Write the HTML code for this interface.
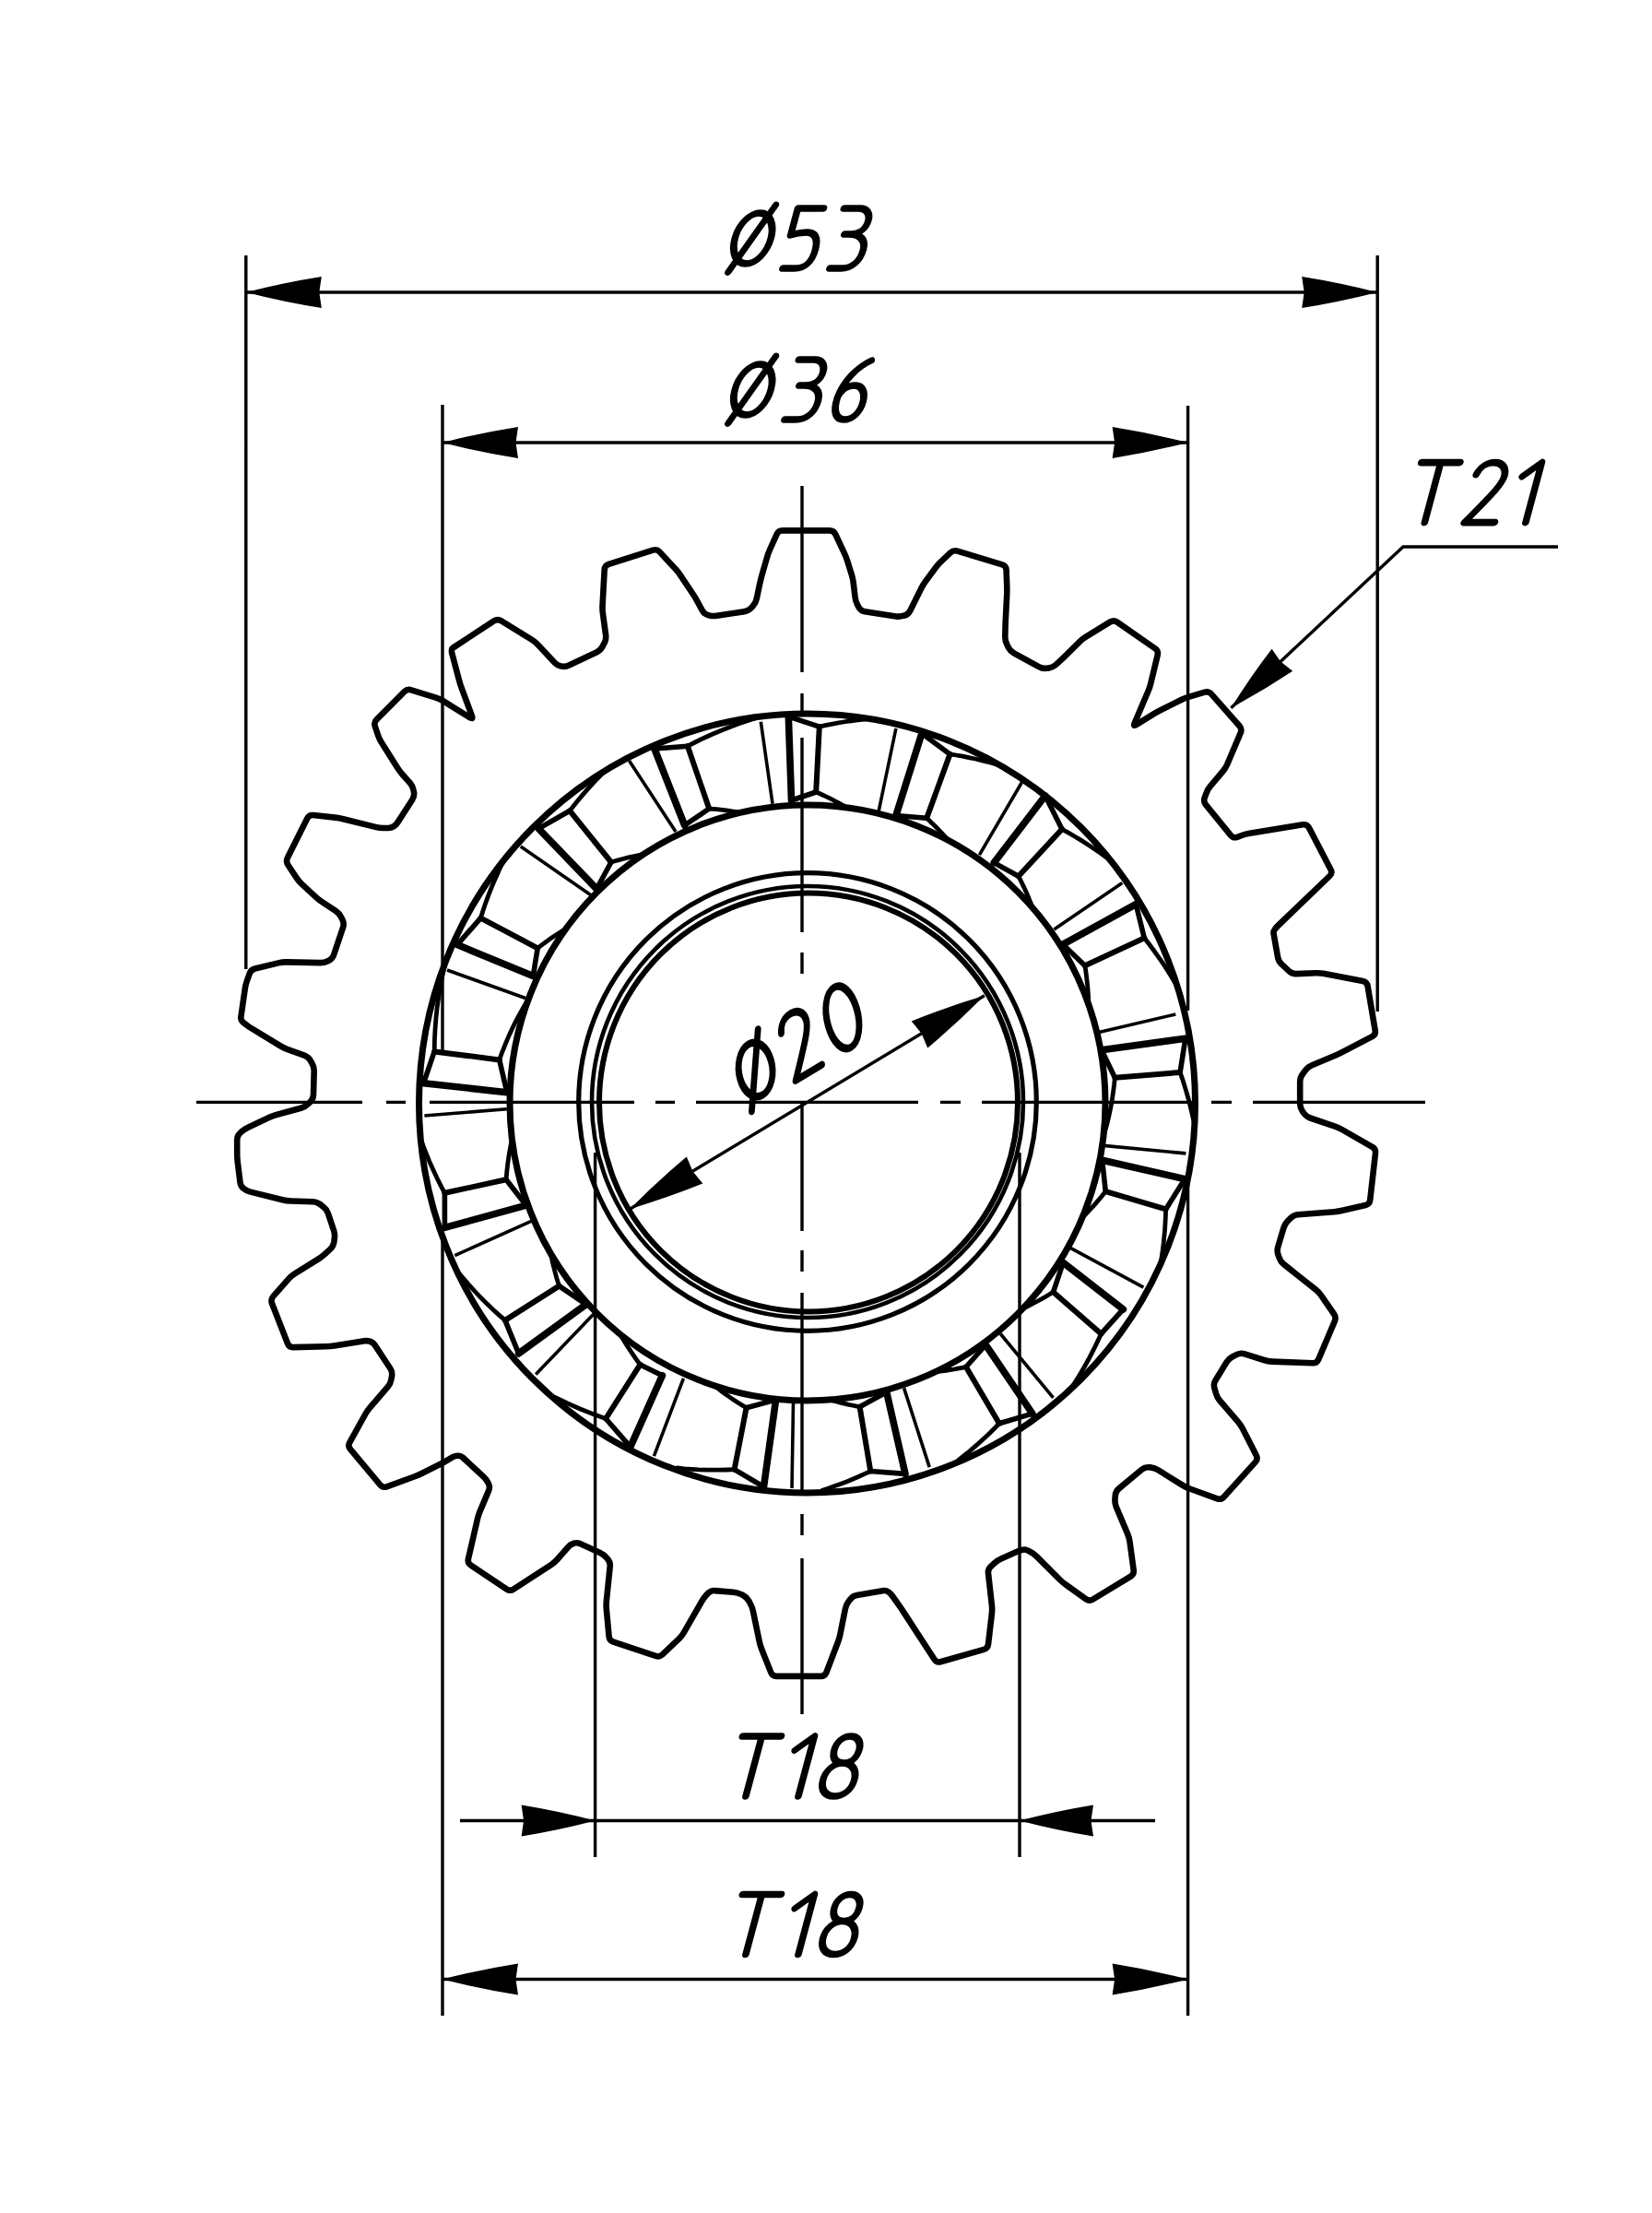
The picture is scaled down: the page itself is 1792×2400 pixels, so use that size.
<!DOCTYPE html><html><head><meta charset="utf-8"><style>html,body{margin:0;padding:0;background:#fff;overflow:hidden;}svg{display:block;}</style></head><body><svg width="1792" height="2400" viewBox="0 0 1792 2400" stroke="#000" fill="#000"><path d="M870,527V729M870,752V777M870,800V1011M870,1033V1056M870,1195V1335M870,1356V1379M870,1402V1621M870,1642V1665M870,1690V1859M213,1195.4H393M419,1195.4H440M466,1195.4H688M711,1195.4H732M755,1195.4H996M1020,1195.4H1042M1065,1195.4H1295M1314,1195.4H1336M1359,1195.4H1546" stroke-width="3.4" fill="none"/><path d="M266.8,277V1051M1494.2,277V1097M266.8,317H1494.2M480,439V1139M480,1337V2186M1288.6,440V1096M1288.6,1281V2186M480,480H1288.6M645.6,1250V2014M1106,1250V2014M499,1974.5H1253M480,2146.5H1288.6M1335.4,767.7L1522,593H1690M683.2,1311.2L1067.8,1079.8" stroke-width="3.4" fill="none"/><g stroke="none"><path d="M266.8,317.0Q307.8,306.5 348.8,300.0L346.3,317.0L348.8,334.0Q307.8,327.5 266.8,317.0Z"/><path d="M1494.2,317.0Q1453.2,327.5 1412.2,334.0L1414.7,317.0L1412.2,300.0Q1453.2,306.5 1494.2,317.0Z"/><path d="M480.0,480.0Q521.0,469.5 562.0,463.0L559.5,480.0L562.0,497.0Q521.0,490.5 480.0,480.0Z"/><path d="M1288.6,480.0Q1247.6,490.5 1206.6,497.0L1209.1,480.0L1206.6,463.0Q1247.6,469.5 1288.6,480.0Z"/><path d="M645.6,1974.5Q605.6,1985.0 565.6,1991.5L568.1,1974.5L565.6,1957.5Q605.6,1964.0 645.6,1974.5Z"/><path d="M1106.0,1974.5Q1146.0,1964.0 1186.0,1957.5L1183.5,1974.5L1186.0,1991.5Q1146.0,1985.0 1106.0,1974.5Z"/><path d="M480.0,2146.5Q521.0,2136.0 562.0,2129.5L559.5,2146.5L562.0,2163.5Q521.0,2157.0 480.0,2146.5Z"/><path d="M1288.6,2146.5Q1247.6,2157.0 1206.6,2163.5L1209.1,2146.5L1206.6,2129.5Q1247.6,2136.0 1288.6,2146.5Z"/><path d="M1335.4,767.7Q1356.1,734.3 1379.6,703.7L1389.1,717.5L1402.2,727.8Q1370.1,749.2 1335.4,767.7Z"/><path d="M1067.8,1079.8Q1038.0,1109.9 1006.2,1136.6L999.6,1120.7L988.7,1107.4Q1027.2,1091.9 1067.8,1079.8Z"/><path d="M683.2,1311.2Q713.0,1281.1 744.8,1254.4L751.4,1270.3L762.3,1283.6Q723.8,1299.1 683.2,1311.2Z"/></g><path d="M848.9,575.3L899.9,575.4Q904.4,575.4 906.3,579.5L916.1,600.4Q918.0,604.5 919.3,608.8L924.0,623.8Q925.3,628.1 925.8,632.6L927.5,647.2Q928.0,651.7 930.0,655.7L931.5,658.6Q933.5,662.6 938.0,663.3L972.0,668.4Q976.2,669.0 980.3,667.7L981.2,667.5Q985.3,666.2 987.2,662.4L999.6,637.5Q1001.6,633.5 1004.3,629.9L1015.2,615.3Q1017.9,611.7 1021.2,608.6L1031.0,599.4Q1034.3,596.3 1038.6,597.6L1087.2,612.3Q1091.5,613.6 1091.6,618.1L1092.3,636.3Q1092.4,640.8 1092.2,645.3L1090.8,672.6Q1090.6,677.1 1090.5,681.6L1090.3,690.5Q1090.2,695.0 1092.3,699.0L1093.9,702.2Q1096.0,706.2 1099.9,708.4L1126.9,723.1Q1130.8,725.3 1135.3,724.8L1137.2,724.6Q1141.7,724.1 1145.1,721.1L1149.2,717.4Q1152.6,714.4 1155.8,711.2L1171.2,695.8Q1174.4,692.6 1178.3,690.3L1204.4,674.4Q1208.3,672.1 1212.0,674.7L1253.1,703.4Q1256.8,706.0 1255.7,710.4L1248.2,741.5Q1247.1,745.9 1245.3,750.0L1230.7,784.2Q1228.9,788.3 1232.7,785.9L1250.5,774.9Q1254.3,772.5 1258.3,770.5L1281.8,758.8Q1285.8,756.8 1290.1,755.6L1306.9,750.7Q1311.2,749.5 1314.2,752.9L1344.5,787.3Q1347.5,790.7 1345.7,794.8L1331.2,829.0Q1329.4,833.1 1326.5,836.5L1312.9,852.7Q1310.0,856.1 1308.5,860.3L1306.7,865.2Q1305.2,869.4 1308.1,872.9L1335.0,905.8Q1337.9,909.3 1342.1,907.8L1347.0,906.0Q1351.2,904.5 1355.6,903.8L1413.4,894.3Q1417.8,893.6 1419.9,897.6L1443.5,942.9Q1445.6,946.9 1442.4,950.0L1387.2,1003.0Q1385.1,1005.0 1383.3,1007.2L1382.9,1007.8Q1381.1,1010.0 1381.6,1012.8L1386.1,1038.2Q1386.9,1042.6 1390.2,1045.7L1398.2,1053.1Q1401.5,1056.2 1406.0,1056.1L1427.9,1055.3Q1432.4,1055.2 1436.8,1056.1L1478.4,1064.0Q1482.8,1064.9 1483.6,1069.3L1491.7,1117.6Q1492.5,1122.0 1488.5,1124.1L1455.8,1141.2Q1451.8,1143.3 1447.6,1145.0L1423.1,1155.2Q1418.9,1156.9 1416.2,1160.5L1412.9,1164.9Q1410.2,1168.5 1410.2,1173.0L1410.2,1197.0Q1410.2,1201.5 1412.8,1205.2L1414.4,1207.4Q1417.0,1211.1 1421.3,1212.5L1447.5,1221.4Q1451.8,1222.8 1455.7,1225.0L1488.6,1243.8Q1492.5,1246.0 1492.0,1250.5L1486.2,1301.5Q1485.7,1306.0 1481.3,1307.0L1456.2,1312.8Q1451.8,1313.8 1447.3,1314.2L1407.9,1317.3Q1403.4,1317.7 1400.2,1320.9L1396.9,1324.2Q1393.7,1327.4 1392.4,1331.7L1386.3,1352.1Q1385.0,1356.4 1386.4,1360.7L1387.5,1363.7Q1388.9,1368.0 1392.4,1370.8L1399.9,1376.9Q1403.4,1379.7 1406.9,1382.5L1427.0,1398.4Q1430.5,1401.2 1433.1,1404.9L1447.0,1425.0Q1449.6,1428.7 1447.8,1432.8L1430.2,1474.4Q1428.4,1478.5 1423.9,1478.3L1379.9,1476.6Q1375.4,1476.4 1371.1,1475.0L1350.1,1468.3Q1345.8,1466.9 1341.8,1468.9L1337.1,1471.2Q1333.1,1473.2 1330.7,1477.0L1318.5,1497.0Q1316.1,1500.8 1317.3,1505.1L1319.1,1511.3Q1320.3,1515.6 1323.2,1519.0L1342.9,1541.9Q1345.8,1545.3 1347.9,1549.3L1362.7,1578.3Q1364.8,1582.3 1361.8,1585.6L1327.6,1623.5Q1324.6,1626.8 1320.4,1625.3L1290.6,1614.5Q1286.4,1613.0 1282.6,1610.6L1256.3,1594.3Q1252.5,1591.9 1248.0,1591.4L1246.5,1591.3Q1242.0,1590.8 1238.5,1593.7L1213.7,1614.4Q1210.2,1617.3 1209.8,1621.8L1209.5,1625.5Q1209.1,1630.0 1210.8,1634.2L1223.3,1663.9Q1225.0,1668.1 1225.6,1672.6L1229.7,1702.8Q1230.3,1707.3 1226.5,1709.6L1185.5,1734.5Q1181.7,1736.8 1178.0,1734.2L1156.4,1718.8Q1152.7,1716.2 1149.5,1713.0L1124.4,1687.9Q1121.2,1684.7 1117.2,1682.7L1114.6,1681.4Q1111.5,1679.9 1108.2,1681.0L1107.5,1681.2Q1104.2,1682.3 1101.0,1683.7L1086.5,1690.2Q1082.4,1692.0 1079.0,1695.0L1074.9,1698.7Q1071.5,1701.7 1072.0,1706.2L1075.9,1740.8Q1076.4,1745.3 1075.9,1749.8L1072.0,1783.2Q1071.5,1787.7 1067.2,1788.9L1020.2,1802.2Q1015.9,1803.4 1013.5,1799.6L980.7,1749.1Q978.3,1745.3 975.7,1741.6L967.8,1730.5Q966.2,1728.3 964.0,1726.7L963.6,1726.3Q961.4,1724.7 958.7,1725.1L929.5,1730.1Q925.1,1730.8 922.4,1734.4L920.5,1736.8Q917.8,1740.4 916.9,1744.8L911.4,1772.4Q910.5,1776.8 908.9,1781.0L896.4,1813.7Q894.8,1817.9 890.3,1817.9L842.3,1817.9Q837.8,1817.9 836.2,1813.7L826.1,1788.2Q824.5,1784.0 823.6,1779.6L816.9,1747.3Q816.0,1742.9 813.8,1739.0L812.1,1735.9Q809.9,1732.0 805.9,1730.0L804.2,1729.1Q800.2,1727.1 795.7,1726.7L775.7,1725.1Q771.2,1724.7 768.0,1727.9L767.1,1728.8Q763.9,1732.0 761.7,1735.9L741.9,1770.4Q739.7,1774.3 736.4,1777.4L718.8,1794.2Q715.5,1797.3 711.2,1795.9L665.3,1780.6Q661.0,1779.2 660.6,1774.7L657.8,1744.9Q657.4,1740.4 657.9,1735.9L661.7,1698.9Q662.2,1694.4 659.3,1691.0L657.9,1689.4Q655.0,1686.0 650.9,1684.1L629.1,1674.1Q625.9,1672.6 622.6,1673.7L621.9,1674.0Q618.6,1675.1 616.3,1677.7L604.7,1691.0Q601.7,1694.4 597.9,1696.9L557.1,1723.4Q553.3,1725.9 549.6,1723.4L510.7,1697.5Q507.0,1695.0 508.0,1690.6L518.1,1646.8Q519.1,1642.4 520.9,1638.3L530.1,1616.6Q531.8,1612.7 529.9,1608.9L529.4,1608.0Q527.5,1604.2 524.4,1601.3L502.1,1580.8Q500.0,1578.8 497.1,1578.8L496.5,1578.8Q493.6,1578.8 491.1,1580.2L482.7,1585.1Q478.8,1587.3 474.8,1589.3L457.4,1598.0Q453.4,1600.0 449.2,1601.5L419.5,1612.3Q415.3,1613.8 412.4,1610.4L380.0,1571.6Q377.1,1568.2 379.3,1564.3L396.1,1534.0Q398.3,1530.1 401.2,1526.7L420.8,1503.8Q423.7,1500.4 424.4,1496.0L425.1,1492.1Q425.8,1487.7 423.3,1484.0L406.4,1458.4Q404.7,1455.9 401.8,1455.0L401.2,1454.7Q398.3,1453.8 395.3,1454.3L362.5,1459.5Q358.1,1460.2 353.6,1460.3L318.1,1461.1Q313.6,1461.2 312.0,1457.0L295.0,1413.5Q293.4,1409.3 296.4,1405.9L312.7,1387.3Q315.7,1383.9 319.5,1381.5L345.8,1365.1Q349.6,1362.7 352.9,1359.6L358.3,1354.6Q361.6,1351.5 362.3,1347.0L362.8,1343.2Q363.5,1338.7 362.1,1334.4L355.8,1315.8Q354.4,1311.5 350.8,1308.8L347.1,1306.0Q343.5,1303.3 339.0,1303.2L315.3,1302.5Q310.8,1302.4 306.4,1301.3L270.8,1292.4Q267.2,1291.5 264.4,1289.1L263.7,1288.5Q260.9,1286.1 260.5,1282.4L257.7,1259.7Q257.2,1255.2 257.2,1250.7L257.2,1236.1Q257.2,1231.6 260.6,1228.6L262.0,1227.3Q265.4,1224.3 269.5,1222.4L292.2,1211.7Q296.3,1209.8 300.7,1208.7L326.4,1201.8Q330.8,1200.7 334.0,1197.5L336.7,1194.8Q339.9,1191.6 340.0,1187.1L340.7,1161.6Q340.8,1157.1 338.5,1153.2L336.7,1150.1Q334.4,1146.2 330.2,1144.7L311.4,1137.8Q307.2,1136.3 303.4,1133.9L270.4,1113.7Q267.2,1111.7 264.4,1109.3L263.7,1108.7Q260.9,1106.3 261.4,1102.6L265.7,1072.7Q266.3,1068.2 267.8,1064.0L270.7,1055.8Q272.2,1051.6 276.6,1050.5L301.9,1044.4Q306.3,1043.3 310.8,1043.4L347.2,1044.1Q351.7,1044.2 355.7,1042.2L356.7,1041.7Q360.7,1039.7 362.1,1035.4L372.1,1005.8Q373.5,1001.5 371.5,997.5L370.0,994.6Q368.0,990.6 364.3,988.1L349.9,978.6Q346.2,976.1 342.9,973.1L327.7,959.1Q324.4,956.1 321.9,952.4L312.4,938.0Q309.9,934.3 311.9,930.3L333.3,887.5Q335.3,883.5 339.8,884.0L363.5,886.6Q368.0,887.1 372.4,888.2L407.2,896.9Q411.6,898.0 416.1,898.0L421.3,898.0Q424.3,898.0 426.8,896.4L427.3,896.0Q429.8,894.4 431.4,891.9L447.3,867.3Q449.7,863.5 449.0,859.1L448.6,857.0Q447.9,852.6 444.9,849.2L436.4,839.7Q433.4,836.3 431.0,832.5L414.0,805.6Q411.6,801.8 410.1,797.5L406.8,787.8Q405.3,783.5 408.5,780.3L438.6,750.2Q441.8,747.0 446.1,748.3L472.9,756.7Q477.2,758.0 481.0,760.4L509.7,778.2Q513.5,780.6 511.9,776.4L500.6,745.8Q499.0,741.6 497.9,737.2L490.3,708.7Q489.9,707.1 489.9,705.5L489.9,705.1Q489.9,703.5 491.3,702.6L536.0,673.3Q539.8,670.8 543.6,673.2L576.9,693.8Q580.7,696.2 583.8,699.5L601.5,718.5Q604.3,721.6 608.4,722.4L609.3,722.6Q613.4,723.4 617.2,721.6L647.4,707.2Q651.5,705.3 653.5,701.3L656.1,696.3Q657.0,694.4 657.1,692.3L657.2,691.9Q657.3,689.8 657.0,687.7L653.9,665.0Q653.3,660.5 653.6,656.0L655.7,617.8Q656.0,613.3 660.3,611.9L708.3,596.7Q712.6,595.3 715.6,598.6L732.9,617.3Q735.9,620.6 738.4,624.3L752.0,644.8Q754.5,648.5 756.6,652.5L761.8,662.1Q763.9,665.9 768.1,667.1L769.0,667.3Q773.2,668.5 777.5,667.8L807.4,663.2Q811.8,662.5 814.9,659.2L816.7,657.2Q819.8,653.9 820.7,649.5L824.2,633.0Q825.1,628.6 826.3,624.3L831.9,604.9Q833.1,600.6 834.9,596.5L842.6,579.4Q844.4,575.3 848.9,575.3Z" stroke-width="6.6" fill="none" stroke-linejoin="round"/><circle cx="876" cy="1195" r="248.3" stroke-width="5.2" fill="none"/><circle cx="876" cy="1195" r="234" stroke-width="4.6" fill="none"/><circle cx="877" cy="1195.5" r="227" stroke-width="6" fill="none"/><ellipse cx="875.5" cy="1196.5" rx="421" ry="422.5" stroke-width="7" fill="none"/><circle cx="876" cy="1196" r="323" stroke-width="7" fill="none"/><path d="M825.3,782.7L838.0,871.7M971.9,790.0L953.3,879.2M1108.4,848.5L1062.4,927.2M1217.4,957.4L1143.3,1008.0M1275.3,1100.0L1192.0,1119.4M1286.4,1250.9L1196.9,1242.4M1240.4,1396.2L1161.1,1353.3M1142.5,1515.8L1085.2,1446.5M1008.2,1591.1L980.6,1505.4M859.0,1614.0L860.5,1521.0M709.4,1579.1L741.4,1494.9M581.2,1490.5L643.8,1425.3M493.3,1361.6L576.8,1324.1M460.4,1210.0L549.9,1202.7M485.0,1052.0L570.0,1082.5M564.8,918.0L643.5,972.5M682.5,825.0L733.0,902.0" stroke-width="3.6" fill="none"/><path d="M855.3,777.2L858.5,868.0M999.9,795.3L971.9,884.5M1133.8,863.0L1078.2,935.6M1232.2,980.6L1153.0,1024.2M1285.9,1126.2L1194.9,1138.7M1285.2,1278.7L1195.6,1258.2M1218.4,1419.9L1153.2,1369.3M1119.9,1533.1L1069.2,1458.5M982.0,1598.4L961.7,1509.7M828.5,1612.5L841.6,1518.1M683.8,1569.1L718.4,1491.8M562.6,1467.9L635.8,1414.6M482.4,1331.4L570.8,1307.2M459.5,1174.7L549.9,1184.7M496.0,1024.6L578.3,1058.5M584.2,898.6L647.2,964.0M709.9,812.0L742.6,895.0" stroke-width="7.6" fill="none" stroke-linecap="round"/><path d="M888.8,788.1L885.2,859.0M1030.5,817.9L1005.2,887.2M1152.0,899.3L1104.8,950.2M1241.3,1017.3L1176.9,1047.2M1280.1,1163.0L1209.4,1168.8M1264.6,1311.4L1199.3,1292.1M1194.4,1446.5L1142.5,1401.3M1083.9,1543.8L1047.9,1482.5M944.3,1595.5L932.6,1525.7M796.6,1593.7L809.6,1526.8M657.1,1538.5L694.4,1479.9M547.9,1431.9L606.5,1394.6M482.4,1293.8L549.0,1279.3M471.2,1140.4L541.7,1149.4M521.4,995.6L583.2,1028.3M618.1,879.3L662.9,935.0M745.9,809.2L769.2,877.0" stroke-width="6" fill="none" stroke-linecap="round"/><path d="M855.3,777.2L888.8,788.1M858.5,868.0L885.2,859.0M999.9,795.3L1030.5,817.9M971.9,884.5L1005.2,887.2M1133.8,863.0L1152.0,899.3M1078.2,935.6L1104.8,950.2M1232.2,980.6L1241.3,1017.3M1153.0,1024.2L1176.9,1047.2M1285.9,1126.2L1280.1,1163.0M1194.9,1138.7L1209.4,1168.8M1285.2,1278.7L1264.6,1311.4M1195.6,1258.2L1199.3,1292.1M1218.4,1419.9L1194.4,1446.5M1153.2,1369.3L1142.5,1401.3M1119.9,1533.1L1083.9,1543.8M1069.2,1458.5L1047.9,1482.5M982.0,1598.4L944.3,1595.5M961.7,1509.7L932.6,1525.7M828.5,1612.5L796.6,1593.7M841.6,1518.1L809.6,1526.8M683.8,1569.1L657.1,1538.5M718.4,1491.8L694.4,1479.9M562.6,1467.9L547.9,1431.9M635.8,1414.6L606.5,1394.6M482.4,1331.4L482.4,1293.8M570.8,1307.2L549.0,1279.3M459.5,1174.7L471.2,1140.4M549.9,1184.7L541.7,1149.4M496.0,1024.6L521.4,995.6M578.3,1058.5L583.2,1028.3M584.2,898.6L618.1,879.3M647.2,964.0L662.9,935.0M709.9,812.0L745.9,809.2M742.6,895.0L769.2,877.0" stroke-width="5.6" fill="none" stroke-linecap="round"/><path d="M888.8,788.1L895.3,786.7L901.8,785.4L908.4,784.1L915.0,783.0L921.7,782.0L928.4,781.2L935.2,780.4L942.0,779.7M885.2,859.0L889.4,860.8L893.6,862.7L897.7,864.7L901.8,866.7L905.9,868.8L909.8,870.9L913.8,873.0L917.7,875.2M1030.5,817.9L1037.3,819.0L1044.2,820.2L1051.0,821.6L1057.9,823.0L1064.7,824.6L1071.5,826.3L1078.4,828.2L1085.2,830.2M1005.2,887.2L1008.2,890.0L1011.2,892.9L1014.2,895.8L1017.0,898.7L1019.9,901.6L1022.7,904.6L1025.4,907.5L1028.1,910.6M1152.0,899.3L1159.0,903.2L1166.0,907.2L1172.9,911.4L1179.7,915.7L1186.5,920.2L1193.2,924.9L1199.9,929.7L1206.5,934.7M1104.8,950.2L1106.9,954.3L1108.9,958.5L1110.9,962.6L1112.8,966.8L1114.7,971.0L1116.4,975.2L1118.1,979.4L1119.7,983.6M1241.3,1017.3L1246.4,1023.8L1251.4,1030.5L1256.3,1037.3L1261.1,1044.2L1265.7,1051.3L1270.2,1058.5L1274.6,1065.8L1278.8,1073.2M1176.9,1047.2L1177.7,1052.4L1178.4,1057.7L1179.0,1062.9L1179.6,1068.1L1180.0,1073.3L1180.4,1078.4L1180.7,1083.6L1180.8,1088.7M1280.1,1163.0L1282.6,1170.1L1284.9,1177.4L1287.1,1184.7L1289.2,1192.0L1291.1,1199.5L1292.9,1207.0L1294.6,1214.6L1296.2,1222.2M1209.4,1168.8L1208.5,1177.1L1207.4,1185.4L1206.2,1193.6L1204.7,1201.7L1203.0,1209.8L1201.1,1217.8L1199.0,1225.7L1196.8,1233.5M1264.6,1311.4L1264.4,1318.7L1264.0,1326.0L1263.6,1333.3L1262.9,1340.6L1262.2,1348.0L1261.3,1355.4L1260.2,1362.8L1259.1,1370.2M1199.3,1292.1L1196.2,1295.9L1193.1,1299.7L1190.0,1303.4L1186.8,1307.1L1183.5,1310.7L1180.3,1314.2L1177.0,1317.6L1173.6,1321.0M1194.4,1446.5L1191.1,1453.7L1187.7,1460.8L1184.1,1467.9L1180.4,1475.0L1176.5,1482.0L1172.4,1489.0L1168.2,1495.9L1163.8,1502.7M1142.5,1401.3L1138.3,1403.8L1134.2,1406.3L1130.0,1408.7L1125.7,1411.0L1121.5,1413.2L1117.3,1415.4L1113.0,1417.5L1108.7,1419.5M1083.9,1543.8L1078.8,1549.0L1073.6,1554.2L1068.2,1559.2L1062.7,1564.2L1057.2,1569.1L1051.5,1574.0L1045.7,1578.7L1039.7,1583.4M1047.9,1482.5L1043.5,1483.4L1039.2,1484.2L1034.9,1485.0L1030.5,1485.7L1026.2,1486.3L1021.9,1486.9L1017.6,1487.4L1013.3,1487.9M944.3,1595.5L938.0,1598.4L931.7,1601.3L925.3,1604.0L918.8,1606.7L912.2,1609.2L905.6,1611.6L898.9,1614.0L892.1,1616.2M932.6,1525.7L928.3,1524.9L924.0,1524.0L919.8,1523.1L915.6,1522.1L911.4,1521.1L907.2,1520.0L903.1,1518.9L899.0,1517.7M796.6,1593.7L789.0,1594.0L781.3,1594.2L773.5,1594.2L765.8,1594.1L758.0,1593.8L750.2,1593.3L742.4,1592.8L734.5,1592.0M809.6,1526.8L804.9,1523.9L800.2,1521.0L795.6,1517.9L791.1,1514.9L786.7,1511.7L782.3,1508.5L778.1,1505.2L773.9,1501.9M657.1,1538.5L650.1,1536.1L643.2,1533.5L636.3,1530.8L629.4,1528.0L622.5,1525.0L615.7,1521.9L608.9,1518.6L602.1,1515.3M694.4,1479.9L691.3,1475.8L688.4,1471.6L685.5,1467.4L682.7,1463.2L679.9,1459.0L677.3,1454.7L674.7,1450.4L672.2,1446.1M547.9,1431.9L541.3,1426.1L534.8,1420.2L528.4,1414.1L522.1,1407.8L515.9,1401.3L509.8,1394.7L503.9,1387.9L498.0,1381.0M606.5,1394.6L605.1,1390.1L603.7,1385.6L602.5,1381.1L601.3,1376.5L600.1,1372.0L599.1,1367.5L598.1,1363.0L597.2,1358.5M482.4,1293.8L478.8,1287.1L475.3,1280.2L472.0,1273.3L468.8,1266.3L465.6,1259.1L462.7,1251.9L459.8,1244.6L457.1,1237.2M549.0,1279.3L549.5,1273.7L550.1,1268.1L550.7,1262.5L551.5,1257.0L552.3,1251.5L553.3,1246.1L554.3,1240.7L555.5,1235.3M471.2,1140.4L471.4,1128.5L472.0,1116.5L472.9,1104.5L474.2,1092.5L475.9,1080.4L477.9,1068.4L480.3,1056.5L483.0,1044.5M541.7,1149.4L544.8,1140.8L548.2,1132.3L551.8,1123.9L555.5,1115.7L559.5,1107.7L563.7,1099.8L568.1,1092.0L572.7,1084.5M521.4,995.6L523.9,987.8L526.5,980.1L529.3,972.4L532.3,964.7L535.4,957.0L538.8,949.4L542.2,941.8L545.9,934.2M583.2,1028.3L586.9,1025.4L590.6,1022.7L594.4,1019.9L598.1,1017.3L601.9,1014.7L605.8,1012.2L609.6,1009.8L613.4,1007.4M618.1,879.3L622.4,873.8L626.8,868.3L631.3,862.9L635.9,857.6L640.6,852.3L645.4,847.1L650.4,842.0L655.4,836.9M662.9,935.0L667.1,933.8L671.4,932.6L675.6,931.5L679.8,930.4L684.0,929.4L688.2,928.5L692.4,927.7L696.6,926.9M745.9,809.2L755.0,804.5L764.3,800.0L773.8,795.7L783.4,791.7L793.1,787.9L803.0,784.3L813.0,780.9L823.1,777.8M769.2,877.0L773.4,877.3L777.5,877.7L781.7,878.1L785.8,878.6L789.9,879.2L793.9,879.8L798.0,880.4L802.0,881.1" stroke-width="4.8" fill="none" stroke-linecap="round"/><g transform="translate(791,291) skewX(-15)" stroke-width="7.6" fill="none" stroke-linecap="round" stroke-linejoin="round"><path transform="translate(0.0,0)" d="M36.5,-32.5A19.5,27.5 0 1 1 -2.5,-32.5A19.5,27.5 0 1 1 36.5,-32.5ZM0,4L32,-68.5"/><path transform="translate(57.0,0)" d="M28,-65H0V-36C6,-38 12,-39 17,-39C26,-39 31,-32 31,-20C31,-7 25,0 15,0H1"/><path transform="translate(107.0,0)" d="M0,-65H17C25,-65 30,-59 30,-52C30,-43 24,-37 14,-37H8M14,-37C25,-37 33,-31 33,-20C33,-8 26,0 15,0H2"/></g><g transform="translate(791,455) skewX(-15)" stroke-width="7.6" fill="none" stroke-linecap="round" stroke-linejoin="round"><path transform="translate(0.0,0)" d="M36.5,-32.5A19.5,27.5 0 1 1 -2.5,-32.5A19.5,27.5 0 1 1 36.5,-32.5ZM0,4L32,-68.5"/><path transform="translate(58.0,0)" d="M0,-65H17C25,-65 30,-59 30,-52C30,-43 24,-37 14,-37H8M14,-37C25,-37 33,-31 33,-20C33,-8 26,0 15,0H2"/><path transform="translate(107.0,0)" d="M30,-64C17,-57 6,-43 4,-24C3,-8 9,0 18,0C27,0 33,-8 33,-19C33,-30 27,-37 19,-37C11,-37 6,-31 4,-24"/></g><g transform="translate(1524.4,566.6) skewX(-15)" stroke-width="7.6" fill="none" stroke-linecap="round" stroke-linejoin="round"><path transform="translate(0.0,0)" d="M0,-65H42M21,-65V0"/><path transform="translate(64.0,0)" d="M-1,-52C1,-61 8,-65 15,-65C24,-65 30,-59 30,-50C30,-42 24,-33 0,0H33"/><path transform="translate(113.6,0)" d="M0,-50L17,-65V0"/></g><g transform="translate(788,1948) skewX(-15)" stroke-width="7.6" fill="none" stroke-linecap="round" stroke-linejoin="round"><path transform="translate(0.0,0)" d="M0,-65H42M21,-65V0"/><path transform="translate(61.0,0)" d="M0,-50L17,-65V0"/><path transform="translate(101.0,0)" d="M16,-36C7,-36 2.5,-42 2.5,-50.5C2.5,-59 8,-65 16,-65C24,-65 29.5,-59 29.5,-50.5C29.5,-42 25,-36 16,-36C6,-36 -1,-28 -1,-18C-1,-7 6,0 16,0C26,0 33,-7 33,-18C33,-28 26,-36 16,-36Z"/></g><g transform="translate(788,2119.5) skewX(-15)" stroke-width="7.6" fill="none" stroke-linecap="round" stroke-linejoin="round"><path transform="translate(0.0,0)" d="M0,-65H42M21,-65V0"/><path transform="translate(61.0,0)" d="M0,-50L17,-65V0"/><path transform="translate(101.0,0)" d="M16,-36C7,-36 2.5,-42 2.5,-50.5C2.5,-59 8,-65 16,-65C24,-65 29.5,-59 29.5,-50.5C29.5,-42 25,-36 16,-36C6,-36 -1,-28 -1,-18C-1,-7 6,0 16,0C26,0 33,-7 33,-18C33,-28 26,-36 16,-36Z"/></g><g transform="translate(814.3,1201.1) rotate(-31) skewX(-15)" stroke-width="7.6" fill="none" stroke-linecap="round" stroke-linejoin="round"><path transform="translate(0.0,0)" d="M36.5,-32.5A19.5,27.5 0 1 1 -2.5,-32.5A19.5,27.5 0 1 1 36.5,-32.5ZM0,4L32,-68.5"/><path transform="translate(57.0,0)" d="M-1,-52C1,-61 8,-65 15,-65C24,-65 30,-59 30,-50C30,-42 24,-33 0,0H33"/><path transform="translate(110.0,0)" d="M17,-65C27,-65 35,-51 35,-32.5C35,-14 27,0 17,0C7,0 -1,-14 -1,-32.5C-1,-51 7,-65 17,-65Z"/></g></svg></body></html>
